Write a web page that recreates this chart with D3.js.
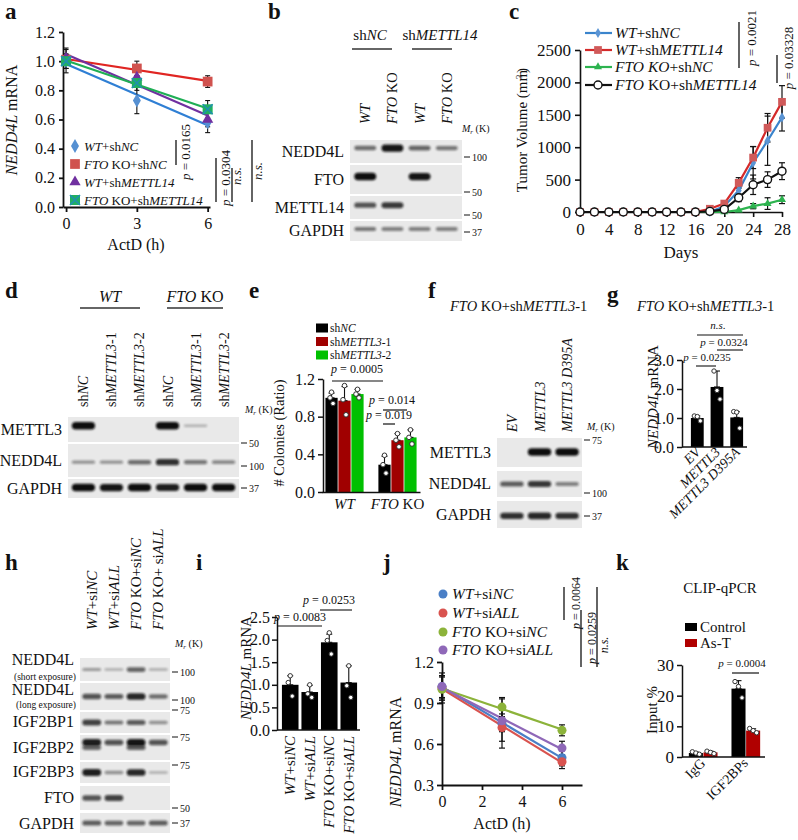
<!DOCTYPE html>
<html>
<head>
<meta charset="utf-8">
<script src="https://cdn.jsdelivr.net/npm/d3@7"></script>
<style>
  body { margin: 0; background: #fff; }
  text { font-family: "Liberation Serif", "Times New Roman", serif; fill: #111; }
</style>
</head>
<body>
<svg id="fig" width="798" height="840"></svg>
<script>
// ---- panel a: NEDD4L mRNA decay ----
const aTimes = [0, 3, 6];
const aSeries = ["*WT*+sh*NC*", "*FTO* KO+sh*NC*", "*WT*+sh*METTL14*", "*FTO* KO+sh*METTL14*"];
const aMeans = [[1.0, 0.73, 0.58], [1.01, 0.95, 0.86], [1.02, 0.89, 0.60], [1.0, 0.85, 0.67]];
const aErr = [[0.08, 0.09, 0.07], [0.03, 0.05, 0.04], [0.07, 0.06, 0.05], [0.05, 0.05, 0.06]];
const aYTicks = [0, 0.2, 0.4, 0.6, 0.8, 1.0, 1.2];

// ---- panel b: blot ----
const bLanes = ["*WT*", "*FTO* KO", "*WT*", "*FTO* KO"];
const bProteins = ["NEDD4L", "FTO", "METTL14", "GAPDH"];
const bBands = [[0.45, 0.95, 0.5, 0.4], [1, 0, 0.95, 0], [0.6, 0.75, 0, 0], [0.4, 0.35, 0.35, 0.35]];
const bMarkers = ["100", "50", "50", "37"];

// ---- panel c: tumour growth ----
const cDays = [0, 2, 4, 6, 8, 10, 12, 14, 16, 18, 20, 22, 24, 26, 28];
const cSeries = ["*WT*+sh*NC*", "*WT*+sh*METTL14*", "*FTO KO*+sh*NC*", "*FTO* KO+sh*METTL14*"];
const cWTshNC = [0, 0, 0, 0, 0, 0, 0, 0, 0, 0, 90, 330, 760, 1100, 1460];
const cWTshM14 = [0, 0, 0, 0, 0, 0, 0, 0, 0, 50, 130, 450, 840, 1300, 1700];
const cKOshNC = [0, 0, 0, 0, 0, 0, 0, 0, 0, 0, 0, 30, 90, 130, 190];
const cKOshM14 = [0, 0, 0, 0, 0, 0, 0, 0, 0, 10, 40, 220, 420, 500, 630];
const cWTshNCErr = [0, 0, 0, 0, 0, 0, 0, 0, 0, 0, 30, 80, 250, 380, 210];
const cWTshM14Err = [0, 0, 0, 0, 0, 0, 0, 0, 0, 15, 30, 80, 170, 220, 250];
const cKOshNCErr = [0, 0, 0, 0, 0, 0, 0, 0, 0, 0, 0, 15, 40, 90, 60];
const cKOshM14Err = [0, 0, 0, 0, 0, 0, 0, 0, 0, 5, 15, 60, 150, 120, 130];
const cYTicks = [0, 500, 1000, 1500, 2000, 2500];
const cXTicks = [0, 4, 8, 12, 16, 20, 24, 28];

// ---- panel d: blot ----
const dLanes = ["sh*NC*", "sh*METTL3*-1", "sh*METTL3*-2", "sh*NC*", "sh*METTL3*-1", "sh*METTL3*-2"];
const dProteins = ["METTL3", "NEDD4L", "GAPDH"];
const dBands = [[1, 0, 0, 1, 0.08, 0], [0.25, 0.25, 0.45, 0.8, 0.4, 0.3], [1, 0.95, 1, 0.9, 1, 1]];
const dMarkers = ["50", "100", "37"];

// ---- panel e: colonies ----
const eGroups = ["*WT*", "*FTO* KO"];
const eSeries = ["sh*NC*", "sh*METTL3*-1", "sh*METTL3*-2"];
const eMeans = [[1.0, 0.97, 1.04], [0.29, 0.55, 0.58]];
const eErr = [[0.05, 0.15, 0.05], [0.09, 0.07, 0.08]];
const eDots = [[[1.06, 1.0, 0.94], [1.13, 0.98, 0.82], [1.09, 1.04, 1.0]],
               [[0.39, 0.29, 0.2], [0.62, 0.55, 0.48], [0.66, 0.58, 0.51]]];
const eYTicks = [0, 0.4, 0.8, 1.2];

// ---- panel f: blot ----
const fLanes = ["*EV*", "*METTL3*", "*METTL3 D395A*"];
const fProteins = ["METTL3", "NEDD4L", "GAPDH"];
const fBands = [[0, 1, 1], [0.55, 0.75, 0.35], [0.8, 0.85, 0.8]];
const fMarkers = ["75", "100", "37"];

// ---- panel g ----
const gCats = ["*EV*", "*METTL3*", "*METTL3 D395A*"];
const gMeans = [1.0, 2.07, 1.02];
const gErr = [0.07, 0.55, 0.2];
const gDots = [[1.07, 1.05, 0.9], [2.62, 1.95, 1.65], [1.22, 1.2, 0.65]];
const gYTicks = [0, 1, 2, 3];

// ---- panel h: blot ----
const hLanes = ["*WT*+si*NC*", "*WT*+si*ALL*", "*FTO* KO+si*NC*", "*FTO* KO+ si*ALL*"];
const hProteins = ["NEDD4L", "NEDD4L", "IGF2BP1", "IGF2BP2", "IGF2BP3", "FTO", "GAPDH"];
const hNotes = ["(short exposure)", "(long exposure)", "", "", "", "", ""];
const hBands = [[0.2, 0.1, 0.5, 0.12], [0.6, 0.55, 0.85, 0.45], [0.7, 0.4, 0.55, 0.25],
                [0.9, 0.6, 0.95, 0.6], [0.9, 0.25, 0.85, 0.1], [0.6, 0.7, 0, 0], [0.55, 0.5, 0.5, 0.55]];
const hBands2 = [[0, 0, 0, 0], [0, 0, 0, 0], [0, 0, 0, 0], [0.5, 0, 0.55, 0], [0, 0, 0, 0], [0, 0, 0, 0], [0, 0, 0, 0]];
const hMarkers = [["100"], ["100", "75"], [], ["75"], ["75"], ["50"], ["37"]];

// ---- panel i ----
const iCats = ["*WT*+si*NC*", "*WT*+si*ALL*", "*FTO* KO+si*NC*", "*FTO* KO+si*ALL*"];
const iMeans = [1.0, 0.84, 1.94, 1.05];
const iErr = [0.2, 0.15, 0.18, 0.37];
const iDots = [[1.2, 1.05, 0.75], [1.0, 0.8, 0.72], [2.15, 1.98, 1.68], [1.42, 0.98, 0.72]];
const iYTicks = [0, 0.5, 1.0, 1.5, 2.0, 2.5];

// ---- panel j ----
const jTimes = [0, 3, 6];
const jSeries = ["*WT*+si*NC*", "*WT*+si*ALL*", "*FTO* KO+si*NC*", "*FTO* KO+si*ALL*"];
const jMeans = [[1.02, 0.75, 0.50], [1.01, 0.72, 0.47], [1.0, 0.87, 0.70], [1.02, 0.77, 0.57]];
const jErr = [[0.1, 0.18, 0.06], [0.08, 0.1, 0.05], [0.1, 0.07, 0.04], [0.08, 0.08, 0.05]];
const jYTicks = [0.3, 0.6, 0.9, 1.2];
const jXTicks = [0, 2, 4, 6];

// ---- panel k ----
const kGroups = ["IgG", "IGF2BPs"];
const kSeries = ["Control", "As-T"];
const kMeans = [[1.3, 1.5], [22.3, 8.6]];
const kErr = [[0.3, 0.4], [2.6, 0.6]];
const kDots = [[[1.7, 1.3, 0.9], [1.9, 1.5, 1.1]], [[24.6, 23.0, 19.3], [9.3, 8.6, 7.9]]];
const kYTicks = [0, 10, 20, 30];

// ================= helpers =================
const svg = d3.select("#fig");
const serif = '"Liberation Serif","Times New Roman",serif';

svg.append("defs").append("filter").attr("id", "blur")
  .attr("x", "-20%").attr("y", "-80%").attr("width", "140%").attr("height", "260%")
  .append("feGaussianBlur").attr("stdDeviation", 0.9);

function rich(t, str) {
  str.split("*").forEach((part, i) => {
    if (!part) return;
    t.append("tspan").attr("font-style", i % 2 ? "italic" : null).text(part);
  });
  return t;
}

function txt(x, y, str, o = {}) {
  const t = svg.append("text").attr("x", x).attr("y", y)
    .attr("font-size", o.size || 15)
    .attr("text-anchor", o.anchor || "start");
  if (o.rotate) t.attr("transform", `rotate(${o.rotate},${x},${y})`);
  if (o.bold) t.attr("font-weight", "bold");
  return rich(t, str);
}

function line(x1, y1, x2, y2, color = "#111", w = 1.3) {
  svg.append("line").attr("x1", x1).attr("y1", y1).attr("x2", x2).attr("y2", y2)
    .attr("stroke", color).attr("stroke-width", w);
}

function errBar(g, x, yTop, yBot, color = "#111", cap = 3, w = 1.3) {
  g.append("line").attr("x1", x).attr("x2", x).attr("y1", yTop).attr("y2", yBot).attr("stroke", color).attr("stroke-width", w);
  g.append("line").attr("x1", x - cap).attr("x2", x + cap).attr("y1", yTop).attr("y2", yTop).attr("stroke", color).attr("stroke-width", w);
  g.append("line").attr("x1", x - cap).attr("x2", x + cap).attr("y1", yBot).attr("y2", yBot).attr("stroke", color).attr("stroke-width", w);
}

function styleAxis(g, size, w = 1.5) {
  g.attr("font-family", serif).attr("font-size", size);
  g.select(".domain").attr("stroke", "#111").attr("stroke-width", w);
  g.selectAll(".tick line").attr("stroke", "#111").attr("stroke-width", w);
  g.selectAll(".tick text").attr("fill", "#111");
}

function fit(xs, ys) {
  const mx = d3.mean(xs), my = d3.mean(ys);
  const b = d3.sum(xs, (x, i) => (x - mx) * (ys[i] - my)) / d3.sum(xs, x => (x - mx) ** 2);
  return [my - b * mx, b];
}

function mrLabel(x, y) {
  const t = svg.append("text").attr("x", x).attr("y", y).attr("font-size", 10);
  t.append("tspan").attr("font-style", "italic").text("M");
  t.append("tspan").attr("font-style", "italic").attr("font-size", 7).attr("dy", 2).text("r");
  t.append("tspan").attr("dy", -2).text(" (K)");
}

// western blot: strips from rows, lanes from a band scale
function drawBlot(o) {
  const lx = d3.scaleBand(d3.range(o.lanes.length), [o.x0, o.x1]).padding(o.pad ?? 0.12);
  const g = svg.append("g");
  o.lanes.forEach((l, i) => {
    txt(lx(i) + lx.bandwidth() / 2 + 5, o.labelBottom, l, { rotate: -90, size: o.labelSize || 14 });
  });
  o.rows.forEach((r, k) => {
    g.append("rect").attr("x", o.x0).attr("y", r.y0).attr("width", o.x1 - o.x0)
      .attr("height", r.y1 - r.y0).attr("fill", "#e9e9e9");
    const by = r.y0 + (r.y1 - r.y0) * (r.pos ?? 0.45);
    const draw = (vals, dy) => vals.forEach((v, i) => {
      if (v <= 0) return;
      const h = 2 + 5.5 * v;
      g.append("rect").attr("x", lx(i) + 1).attr("width", lx.bandwidth() - 2)
        .attr("y", by + dy - h / 2).attr("height", h).attr("rx", h / 2)
        .attr("fill", "#101010").attr("opacity", 0.2 + 0.8 * v).attr("filter", "url(#blur)");
    });
    draw(o.bands[k], 0);
    if (o.bands2) draw(o.bands2[k], 5);
    txt(o.x0 - 6, r.ly ?? (r.y0 + r.y1) / 2 + 5, r.name, { anchor: "end", size: o.nameSize || 16 });
    (r.marks || []).forEach(([lab, y]) => {
      line(o.x1 + 2, y, o.x1 + 8, y, "#111", 1);
      txt(o.x1 + 10, y + 3.5, lab, { size: 10 });
    });
  });
  return lx;
}

// panel letters
[["a", 5, 19], ["b", 268, 19], ["c", 509, 19], ["d", 5, 298], ["e", 249, 298], ["f", 428, 298],
 ["g", 607, 302], ["h", 5, 570], ["i", 196, 570], ["j", 383, 570], ["k", 616, 570]]
  .forEach(([l, x, y]) => txt(x, y, l, { size: 23, bold: true }));

// ================= a =================
{
  const x = d3.scaleLinear([-0.13, 6.1], [63, 210]);
  const y = d3.scaleLinear([0, 1.2], [207, 32]);
  const blue = "#2f7fd4", red = "#e02522", purple = "#7030a0", green = "#1fae55";
  const lineC = [blue, red, purple, green];
  const markC = ["#5690d2", "#d0524e", "#7030a0", "#20b060"];
  const g = svg.append("g");
  g.append("g").attr("transform", "translate(63,0)")
    .call(d3.axisLeft(y).tickValues(aYTicks).tickFormat(d3.format(".1f")).tickSize(4).tickSizeOuter(0).tickPadding(4))
    .call(styleAxis, 16, 1.8);
  g.append("g").attr("transform", "translate(0,207)")
    .call(d3.axisBottom(x).tickValues(aTimes).tickFormat(d3.format("d")).tickSize(5).tickSizeOuter(0).tickPadding(6))
    .call(styleAxis, 16, 1.8);
  aMeans.forEach((m, s) => {
    const [a0, b] = fit(aTimes, m);
    g.append("line").attr("x1", x(0)).attr("x2", x(6)).attr("y1", y(a0)).attr("y2", y(a0 + 6 * b))
      .attr("stroke", lineC[s]).attr("stroke-width", 2.2);
  });
  aMeans.forEach((m, s) => m.forEach((v, i) =>
    errBar(g, x(aTimes[i]), y(v + aErr[s][i]), y(v - aErr[s][i]), "#111", 2.5, 1.1)));
  const mark = (s, cx, cy) => {
    if (s === 3) {
      g.append("rect").attr("x", cx - 5).attr("y", cy - 5).attr("width", 10).attr("height", 10).attr("fill", markC[3]);
      g.append("path").attr("d", `M${cx - 5},${cy - 5}L${cx + 5},${cy + 5}M${cx + 5},${cy - 5}L${cx - 5},${cy + 5}`)
        .attr("stroke", "#1f8fb0").attr("stroke-width", 1.6);
      return;
    }
    const type = [d3.symbolDiamond, d3.symbolSquare, d3.symbolTriangle][s];
    g.append("path").attr("d", d3.symbol(type, [55, 95, 55][s])())
      .attr("transform", `translate(${cx},${cy})`).attr("fill", markC[s]);
  };
  aMeans.forEach((m, s) => m.forEach((v, i) => mark(s, x(aTimes[i]), y(v))));
  aSeries.forEach((name, s) => {
    const ly = [146, 164, 182, 200][s];
    mark(s, 75, ly);
    txt(84, ly + 5, name, { size: 13 });
  });
  txt(17, 120, "*NEDD4L* mRNA", { rotate: -90, anchor: "middle", size: 16 });
  txt(136, 250, "ActD (h)", { anchor: "middle", size: 16 });
  // statistics
  line(176, 140, 176, 165);
  txt(190, 152, "*p* = 0.0165", { rotate: -90, anchor: "middle", size: 13 });
  line(216, 158, 216, 202);
  txt(230, 178, "*p* = 0.0304", { rotate: -90, anchor: "middle", size: 13 });
  line(232, 168, 232, 202);
  txt(241, 176, "*n.s.*", { rotate: -90, anchor: "middle", size: 13 });
  line(252, 140, 252, 202);
  txt(262, 171, "*n.s.*", { rotate: -90, anchor: "middle", size: 13 });
}

// ================= b =================
{
  txt(370, 40, "sh*NC*", { anchor: "middle", size: 15 });
  txt(440, 40, "sh*METTL14*", { anchor: "middle", size: 15 });
  line(352, 49, 392, 49, "#333", 1.6);
  line(412, 49, 452, 49, "#333", 1.6);
  mrLabel(462, 132);
  const ys = [[140, 163], [165, 194], [196, 219], [221, 241]];
  const marks = [157, 192, 215, 232];
  drawBlot({
    lanes: bLanes, x0: 350, x1: 462, labelBottom: 124, labelSize: 14.5, bands: bBands,
    rows: bProteins.map((p, k) => ({ name: p, y0: ys[k][0], y1: ys[k][1], marks: [[bMarkers[k], marks[k]]], pos: [0.35, 0.4, 0.4, 0.4][k] }))
  });
}

// ================= c =================
{
  const x = d3.scaleLinear([0, 28], [580, 782]);
  const y = d3.scaleLinear([0, 2500], [212, 50]);
  const g = svg.append("g");
  g.append("g").attr("transform", "translate(580,0)")
    .call(d3.axisLeft(y).tickValues(cYTicks).tickFormat(d3.format("d")).tickSize(5).tickSizeOuter(0).tickPadding(4))
    .call(styleAxis, 17, 1.6);
  g.append("g").attr("transform", "translate(0,212)")
    .call(d3.axisBottom(x).tickValues(cXTicks).tickFormat(d3.format("d")).tickSize(5).tickSizeOuter(0).tickPadding(6))
    .call(styleAxis, 17, 1.6);
  const series = [
    { v: cWTshNC, e: cWTshNCErr, c: "#3a84cc", m: "#5a94d4", sym: d3.symbolDiamond, sz: 30 },
    { v: cWTshM14, e: cWTshM14Err, c: "#d42a2a", m: "#d05a5a", sym: d3.symbolSquare, sz: 60 },
    { v: cKOshNC, e: cKOshNCErr, c: "#2db34f", m: "#2db34f", sym: d3.symbolTriangle, sz: 28 },
    { v: cKOshM14, e: cKOshM14Err, c: "#111", m: "#fff", sym: null, sz: 0 }
  ];
  const lg = d3.line().x((d, i) => x(cDays[i])).y(d => y(d));
  const drawMark = (s, cx, cy) => {
    if (!s.sym) {
      g.append("circle").attr("cx", cx).attr("cy", cy).attr("r", 4).attr("fill", "#fff").attr("stroke", "#111").attr("stroke-width", 1.4);
    } else {
      g.append("path").attr("d", d3.symbol(s.sym, s.sz)()).attr("transform", `translate(${cx},${cy})`).attr("fill", s.m);
    }
  };
  series.forEach(s => {
    s.v.forEach((v, i) => { if (s.e[i] > 20) errBar(g, x(cDays[i]), y(v + s.e[i]), y(Math.max(0, v - s.e[i])), "#111", 3, 1.2); });
  });
  series.forEach(s => {
    g.append("path").attr("d", lg(s.v)).attr("fill", "none").attr("stroke", s.c).attr("stroke-width", 2.2);
    s.v.forEach((v, i) => drawMark(s, x(cDays[i]), y(v)));
  });
  cSeries.forEach((name, k) => {
    const ly = [33, 50, 67, 85][k];
    g.append("line").attr("x1", 585).attr("x2", 612).attr("y1", ly).attr("y2", ly).attr("stroke", series[k].c).attr("stroke-width", 2.2);
    drawMark(series[k], 598, ly);
    txt(615, ly + 5, name, { size: 15.5 });
  });
  txt(527, 131, "Tumor Volume (mm", { rotate: -90, anchor: "middle", size: 15 });
  txt(522, 79, "3", { rotate: -90, size: 9 });
  txt(527, 73, ")", { rotate: -90, size: 15 });
  txt(681, 258, "Days", { anchor: "middle", size: 17 });
  line(739, 22, 739, 68);
  txt(756, 38, "*p* = 0.0021", { rotate: -90, anchor: "middle", size: 13 });
  line(777, 55, 777, 83);
  txt(793, 58, "*p* = 0.03328", { rotate: -90, anchor: "middle", size: 13 });
}

// ================= d =================
{
  txt(110, 302, "*WT*", { anchor: "middle", size: 16 });
  txt(195, 302, "*FTO* KO", { anchor: "middle", size: 16 });
  line(80, 308, 140, 308, "#333", 1.6);
  line(167, 308, 223, 308, "#333", 1.6);
  mrLabel(245, 413);
  drawBlot({
    lanes: dLanes, x0: 68, x1: 239, labelBottom: 407, labelSize: 14, bands: dBands, pad: 0.1,
    rows: [
      { name: dProteins[0], y0: 417, y1: 442, pos: 0.35, marks: [[dMarkers[0], 443]] },
      { name: dProteins[1], y0: 444, y1: 477, pos: 0.55, marks: [[dMarkers[1], 466]] },
      { name: dProteins[2], y0: 479, y1: 498, pos: 0.45, marks: [[dMarkers[2], 488]] }
    ]
  });
}

// ================= e =================
{
  const y = d3.scaleLinear([0, 1.2], [492, 379]);
  const x0 = d3.scaleBand(eGroups, [322, 420]).paddingInner(0.25).paddingOuter(0.05);
  const x1 = d3.scaleBand(eSeries, [0, x0.bandwidth()]).padding(0.06);
  const cols = ["#000", "#a00000", "#00c000"];
  const g = svg.append("g");
  eMeans.forEach((row, gi) => row.forEach((v, si) => {
    const bx = x0(eGroups[gi]) + x1(eSeries[si]);
    g.append("rect").attr("x", bx).attr("y", y(v)).attr("width", x1.bandwidth()).attr("height", y(0) - y(v)).attr("fill", cols[si]);
    const cx = bx + x1.bandwidth() / 2;
    errBar(g, cx, y(v + eErr[gi][si]), y(v), "#111", 3, 1.1);
    eDots[gi][si].forEach((d, k) => g.append("circle").attr("cx", cx + [0, -1.5, 1.5][k]).attr("cy", y(d)).attr("r", 2.3)
      .attr("fill", "#fff").attr("stroke", "#333").attr("stroke-width", 1));
  }));
  g.append("g").attr("transform", "translate(323,0)")
    .call(d3.axisLeft(y).tickValues(eYTicks).tickFormat(d3.format(".1f")).tickSize(5).tickSizeOuter(0).tickPadding(3))
    .call(styleAxis, 16, 1.5);
  g.append("g").attr("transform", "translate(0,492)")
    .call(d3.axisBottom(x0).tickSize(0).tickFormat("").tickSizeOuter(0))
    .call(styleAxis, 15, 1.5);
  eGroups.forEach(gr => txt(x0(gr) + x0.bandwidth() / 2, 509, gr, { anchor: "middle", size: 15 }));
  eSeries.forEach((s, k) => {
    const ly = [328, 341.5, 355][k];
    g.append("rect").attr("x", 316).attr("y", ly - 4.5).attr("width", 12).attr("height", 9).attr("fill", cols[k]);
    txt(330, ly + 4, s, { size: 11.5 });
  });
  txt(284, 433, "# Colonies (Ratio)", { rotate: -90, anchor: "middle", size: 14.5 });
  txt(357, 373, "*p* = 0.0005", { anchor: "middle", size: 12 });
  line(332, 381, 383, 381, "#111", 1.2);
  txt(392, 404, "*p* = 0.014", { anchor: "middle", size: 12 });
  line(383, 410, 407, 410, "#111", 1.2);
  txt(389, 419, "*p* = 0.019", { anchor: "middle", size: 12 });
  line(383, 424, 395, 424, "#111", 1.2);
}

// ================= f =================
{
  txt(450, 311, "*FTO* KO+sh*METTL3*-1", { size: 14.5 });
  mrLabel(587, 430);
  drawBlot({
    lanes: fLanes, x0: 497, x1: 582, labelBottom: 432, labelSize: 14, bands: fBands, pad: 0.08,
    rows: [
      { name: fProteins[0], y0: 438, y1: 467, pos: 0.48, marks: [[fMarkers[0], 440]] },
      { name: fProteins[1], y0: 471, y1: 497, pos: 0.5, marks: [[fMarkers[1], 493]] },
      { name: fProteins[2], y0: 501, y1: 528, pos: 0.55, marks: [[fMarkers[2], 516]] }
    ]
  });
}

// ================= g =================
{
  const y = d3.scaleLinear([0, 3], [447, 360]);
  const x = d3.scaleBand(gCats, [684, 750]).padding(0.35);
  const g = svg.append("g");
  gCats.forEach((c, i) => {
    const bx = x(c), cx = bx + x.bandwidth() / 2, v = gMeans[i];
    g.append("rect").attr("x", bx).attr("y", y(v)).attr("width", x.bandwidth()).attr("height", y(0) - y(v)).attr("fill", "#000");
    errBar(g, cx, y(v + gErr[i]), y(v), "#111", 3, 1.1);
    gDots[i].forEach((d, k) => g.append("circle").attr("cx", cx + [-3, 0, 3][k]).attr("cy", y(d)).attr("r", 2.2)
      .attr("fill", "#fff").attr("stroke", "#333").attr("stroke-width", 1));
    txt(cx + 4, 453, c, { rotate: -45, anchor: "end", size: 14 });
  });
  g.append("g").attr("transform", "translate(682,0)")
    .call(d3.axisLeft(y).tickValues(gYTicks).tickSize(5).tickSizeOuter(0).tickPadding(3))
    .call(styleAxis, 16, 1.5);
  line(682, 447, 747, 447, "#111", 1.5);
  txt(637, 311, "*FTO* KO+sh*METTL3*-1", { size: 14.5 });
  txt(658, 397, "*NEDD4L* mRNA", { rotate: -90, anchor: "middle", size: 15 });
  txt(718, 329, "*n.s.*", { anchor: "middle", size: 11 });
  line(697, 335, 743, 335, "#111", 1.1);
  txt(724, 346, "*p* = 0.0324", { anchor: "middle", size: 11 });
  line(717, 350, 743, 350, "#111", 1.1);
  txt(707, 361, "*p* = 0.0235", { anchor: "middle", size: 11 });
  line(696, 366, 716, 366, "#111", 1.1);
}

// ================= h =================
{
  mrLabel(175, 647);
  const ys = [[658, 681], [683, 710], [712, 733], [735, 760], [762, 783], [786, 810], [813, 833]];
  const lys = [665, 695, 727, 753, 777, 803, 829];
  const mpos = [[672], [700, 710], [], [737], [765], [808], [823]];
  drawBlot({
    lanes: hLanes, x0: 80, x1: 170, labelBottom: 630, labelSize: 15, bands: hBands, bands2: hBands2, pad: 0.06,
    nameSize: 16,
    rows: hProteins.map((p, k) => ({
      name: p, y0: ys[k][0], y1: ys[k][1], ly: lys[k], pos: k === 3 ? 0.3 : 0.5,
      marks: hMarkers[k].map((m, j) => [m, mpos[k][j]])
    }))
  });
  hNotes.forEach((n, k) => { if (n) txt(76, [680, 708][k], n, { anchor: "end", size: 9.5 }); });
}

// ================= i =================
{
  const y = d3.scaleLinear([0, 2.5], [730, 617]);
  const x = d3.scaleBand(iCats, [279, 360]).padding(0.15);
  const g = svg.append("g");
  iCats.forEach((c, i) => {
    const bx = x(c), cx = bx + x.bandwidth() / 2, v = iMeans[i];
    g.append("rect").attr("x", bx).attr("y", y(v)).attr("width", x.bandwidth()).attr("height", y(0) - y(v)).attr("fill", "#000");
    errBar(g, cx, y(v + iErr[i]), y(v), "#111", 3, 1.1);
    iDots[i].forEach((d, k) => g.append("circle").attr("cx", cx + [0, -2, 2][k]).attr("cy", y(d)).attr("r", 2.2)
      .attr("fill", "#fff").attr("stroke", "#333").attr("stroke-width", 1));
    txt(cx + 5, 736, c, { rotate: -90, anchor: "end", size: 15 });
  });
  g.append("g").attr("transform", "translate(277,0)")
    .call(d3.axisLeft(y).tickValues(iYTicks).tickFormat(d3.format(".1f")).tickSize(5).tickSizeOuter(0).tickPadding(2))
    .call(styleAxis, 16, 1.5);
  line(277, 730, 360, 730, "#111", 1.5);
  txt(251, 668, "*NEDD4L* mRNA", { rotate: -90, anchor: "middle", size: 15 });
  txt(300, 621, "*p* = 0.0083", { anchor: "middle", size: 12 });
  line(278, 626, 322, 626, "#111", 1.1);
  txt(329, 604, "*p* = 0.0253", { anchor: "middle", size: 12 });
  line(320, 610, 352, 610, "#111", 1.1);
}

// ================= j =================
{
  const x = d3.scaleLinear([0, 7], [442, 582]);
  const y = d3.scaleLinear([0.3, 1.2], [785, 662]);
  const cols = ["#4a7fc6", "#d9534f", "#8cb33a", "#8f68b8"];
  const g = svg.append("g");
  g.append("g").attr("transform", "translate(442,0)")
    .call(d3.axisLeft(y).tickValues(jYTicks).tickFormat(d3.format(".1f")).tickSize(5).tickSizeOuter(0).tickPadding(3))
    .call(styleAxis, 16, 1.8);
  g.append("g").attr("transform", "translate(0,785)")
    .call(d3.axisBottom(x).tickValues(jXTicks).tickFormat(d3.format("d")).tickSize(5).tickSizeOuter(0).tickPadding(6))
    .call(styleAxis, 16, 1.8);
  jMeans.forEach((m, s) => {
    const [a0, b] = fit(jTimes, m);
    g.append("line").attr("x1", x(0)).attr("x2", x(6)).attr("y1", y(a0)).attr("y2", y(a0 + 6 * b))
      .attr("stroke", cols[s]).attr("stroke-width", 2.2);
  });
  jMeans.forEach((m, s) => m.forEach((v, i) =>
    errBar(g, x(jTimes[i]), y(v + jErr[s][i]), y(v - jErr[s][i]), "#111", 3, 1.2)));
  jMeans.forEach((m, s) => m.forEach((v, i) =>
    g.append("circle").attr("cx", x(jTimes[i])).attr("cy", y(v)).attr("r", 4.5).attr("fill", cols[s])));
  jSeries.forEach((name, s) => {
    const ly = [594, 613, 632, 650][s];
    g.append("circle").attr("cx", 443).attr("cy", ly).attr("r", 4.5).attr("fill", cols[s]);
    txt(452, ly + 5, name, { size: 15.5 });
  });
  txt(401, 752, "*NEDD4L* mRNA", { rotate: -90, anchor: "middle", size: 16 });
  txt(502, 829, "ActD (h)", { anchor: "middle", size: 16 });
  line(564, 587, 564, 620);
  txt(580, 603, "*p* = 0.0064", { rotate: -90, anchor: "middle", size: 12 });
  line(581, 610, 581, 667);
  txt(596, 638, "*p* = 0.0259", { rotate: -90, anchor: "middle", size: 12 });
  line(597, 587, 597, 667);
  txt(608, 645, "*n.s.*", { rotate: -90, anchor: "middle", size: 12 });
}

// ================= k =================
{
  const y = d3.scaleLinear([0, 30], [757, 665]);
  const x0 = d3.scaleBand(kGroups, [684, 765]).paddingInner(0.3).paddingOuter(0.1);
  const x1 = d3.scaleBand(kSeries, [0, x0.bandwidth()]).padding(0.04);
  const cols = ["#000", "#b00000"];
  const g = svg.append("g");
  kMeans.forEach((row, gi) => row.forEach((v, si) => {
    const bx = x0(kGroups[gi]) + x1(kSeries[si]), cx = bx + x1.bandwidth() / 2;
    g.append("rect").attr("x", bx).attr("y", y(v)).attr("width", x1.bandwidth()).attr("height", y(0) - y(v)).attr("fill", cols[si]);
    errBar(g, cx, y(v + kErr[gi][si]), y(v), "#111", 3, 1.1);
    kDots[gi][si].forEach((d, k) => g.append("circle").attr("cx", cx + [-3.5, 0, 3.5][k]).attr("cy", y(d)).attr("r", 2.2)
      .attr("fill", "#fff").attr("stroke", "#333").attr("stroke-width", 1));
  }));
  g.append("g").attr("transform", "translate(682,0)")
    .call(d3.axisLeft(y).tickValues(kYTicks).tickSize(5).tickSizeOuter(0).tickPadding(3))
    .call(styleAxis, 17, 1.5);
  line(682, 757, 765, 757, "#111", 1.5);
  kGroups.forEach(gr => txt(x0(gr) + x0.bandwidth() / 2 + 3, 764, gr, { rotate: -45, anchor: "end", size: 14 }));
  txt(720, 593, "CLIP-qPCR", { anchor: "middle", size: 15 });
  kSeries.forEach((s, k) => {
    const ly = [627, 643][k];
    g.append("rect").attr("x", 685).attr("y", ly - 4).attr("width", 12).attr("height", 8).attr("fill", cols[k]);
    txt(700, ly + 5, s, { size: 15 });
  });
  txt(657, 710, "Input %", { rotate: -90, anchor: "middle", size: 15 });
  txt(742, 667, "*p* = 0.0004", { anchor: "middle", size: 11 });
  line(732, 673, 759, 673, "#111", 1.2);
}
</script>
</body>
</html>
